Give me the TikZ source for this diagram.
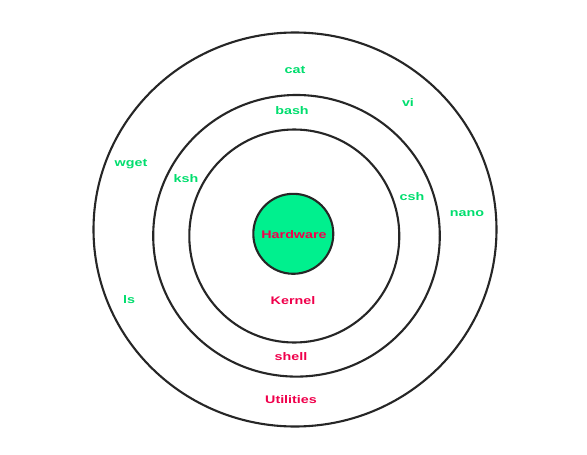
\documentclass[tikz,border=0pt]{standalone}
\usepackage{fontspec}
\setmainfont{Liberation Sans}[FakeStretch=1.3]
\usepackage{tikz}
\definecolor{cmdgreen}{RGB}{0,222,110}
\definecolor{hwgreen}{RGB}{0,240,142}
\definecolor{layerred}{RGB}{240,0,76}
\tikzset{
  ring/.style={line width=2.1pt, draw=black!85},
  cmd/.style={text=cmdgreen, font=\fontsize{11}{13}\selectfont\bfseries, inner sep=1pt},
  layer/.style={text=layerred, font=\fontsize{11}{13}\selectfont\bfseries, inner sep=1pt}
}
\begin{document}
\begin{tikzpicture}[x=1pt,y=-1pt]
        \useasboundingbox (0,0) rectangle (587,455);
        \fill[white] (0,0) rectangle (587,455);
        % layers
        \draw[ring] (295,229.5) ellipse [x radius=201.5pt, y radius=197pt];
        \draw[ring] (296.5,235.8) ellipse [x radius=143.3pt, y radius=140.8pt];
        \draw[ring] (294.3,236) ellipse [x radius=105pt, y radius=106.5pt];
        \node[circle, ring, fill=hwgreen, minimum size=80pt, inner sep=0pt] (hw) at (293.3,233.8) {};
        \node[layer] (hardware) at (294,235) {Hardware};
        \node[layer] (kernel) at (293,301) {Kernel};
        \node[layer] (shell) at (291,357) {shell};
        \node[layer] (utilities) at (291,400) {Utilities};
        % commands
        \node[cmd] (cat) at (295,70) {cat};
        \node[cmd] (vi) at (408,103) {vi};
        \node[cmd] (bash) at (292,111) {bash};
        \node[cmd] (wget) at (131,164) {wget};
        \node[cmd] (ksh) at (186,179) {ksh};
        \node[cmd] (csh) at (412,197) {csh};
        \node[cmd] (nano) at (467,214) {nano};
        \node[cmd] (ls) at (129,300) {ls};
\end{tikzpicture}
\end{document}
